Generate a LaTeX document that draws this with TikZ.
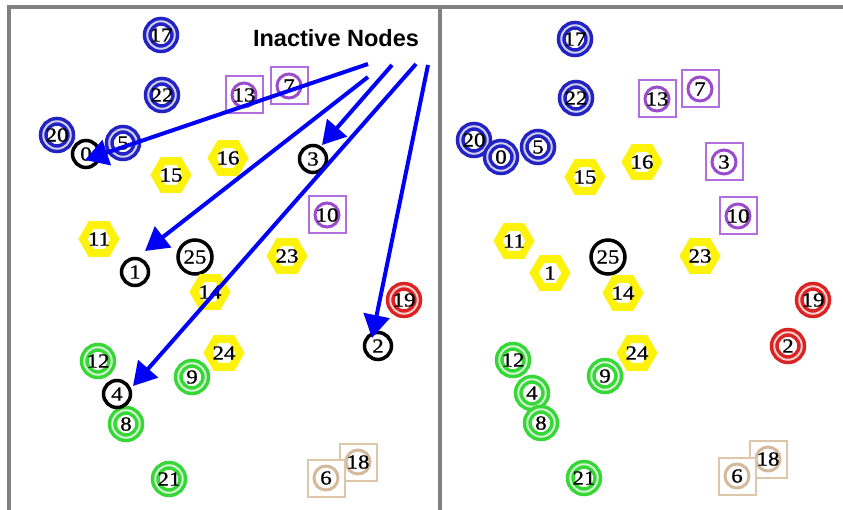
\documentclass[tikz,border=0pt]{standalone}
\usepackage{fontspec}
\setmainfont{Liberation Serif}
\newfontfamily\numfont{Liberation Serif}[FakeBold=0.8]
\newfontfamily\labelfont{Liberation Sans}
\usetikzlibrary{arrows.meta,shapes.geometric,calc}

\definecolor{ringblue}{RGB}{35,35,195}
\definecolor{ringgreen}{RGB}{55,215,55}
\definecolor{ringred}{RGB}{220,35,35}
\definecolor{hexyellow}{RGB}{253,243,10}
\definecolor{sqpurple}{RGB}{178,110,222}
\definecolor{circpurple}{RGB}{155,75,205}
\definecolor{sqtan}{RGB}{222,198,170}
\definecolor{circtan}{RGB}{212,185,155}
\definecolor{framegray}{RGB}{128,128,128}
\definecolor{arrowblue}{RGB}{0,0,250}

% zero-width, slightly widened numeral
\newcommand\dg[1]{\makebox[0pt]{\scalebox{1.15}[1]{#1}}}

\tikzset{
  num/.style={font=\numfont\fontsize{20}{20}\selectfont, text=black, inner sep=0pt},
  ringnode/.style={circle, minimum size=27.5pt, line width=3.5pt, double=#1!22,
    double distance=2pt, draw=#1, fill=white, num},
  blackring/.style={circle, minimum size=27pt, line width=3.5pt, draw=black, fill=white, num},
  bigblackring/.style={blackring, minimum size=34pt},
  hexnode/.style={regular polygon, regular polygon sides=6, minimum size=32pt,
    line width=8pt, draw=hexyellow, fill=white, num},
  sqnode/.style 2 args={rectangle, minimum size=37pt, line width=2pt, draw=#1,
    fill=white, num, path picture={\draw[#2, line width=3pt]
      (path picture bounding box.center) circle (12pt);}},
  purplesq/.style={sqnode={sqpurple}{circpurple}},
  tansq/.style={sqnode={sqtan}{circtan}},
  pointer/.style={draw=arrowblue, line width=4pt, -{Triangle[length=23pt,width=26pt]}},
  caption/.style={font=\labelfont\bfseries\fontsize{23.5}{23.5}\selectfont, inner sep=0pt}
}

\begin{document}
\begin{tikzpicture}[x=1pt, y=-1pt]
\useasboundingbox (0,0) rectangle (843,510);
\fill[white] (0,0) rectangle (843,510);

% panel frame
\draw[framegray, line width=4pt, line join=miter] (9,510) -- (9,7) -- (843,7);
\draw[framegray, line width=4pt] (440,7) -- (440,510);

% ---- left panel: network with inactive nodes ----
\node[ringnode=ringblue] (L17) at (161,35) {\dg{17}};
\node[ringnode=ringblue] (L22) at (162,95) {\dg{22}};
\node[ringnode=ringblue] (L20) at (57,135) {\dg{20}};
\node[ringnode=ringblue] (L5) at (123,143) {\dg{5}};
\node[blackring] (L0) at (86,154) {\dg{0}};
\node[purplesq] (L13) at (244,95) {\dg{13}};
\node[purplesq] (L7) at (289,86) {\dg{7}};
\node[hexnode] (L16) at (228,158) {\dg{16}};
\node[hexnode] (L15) at (171,175) {\dg{15}};
\node[blackring] (L3) at (313,159) {\dg{3}};
\node[purplesq] (L10) at (327,215) {\dg{10}};
\node[hexnode] (L11) at (99,239) {\dg{11}};
\node[bigblackring] (L25) at (195,257) {\dg{25}};
\node[hexnode] (L23) at (287,256) {\dg{23}};
\node[blackring] (L1) at (135,272) {\dg{1}};
\node[hexnode] (L14) at (210,292) {\dg{14}};
\node[ringnode=ringred] (L19) at (404,300) {\dg{19}};
\node[blackring] (L2) at (378,346) {\dg{2}};
\node[hexnode] (L24) at (224,353) {\dg{24}};
\node[ringnode=ringgreen] (L12) at (98,361) {\dg{12}};
\node[ringnode=ringgreen] (L9) at (192,377) {\dg{9}};
\node[ringnode=ringgreen] (L8) at (126,424) {\dg{8}};
\node[blackring] (L4) at (117,394) {\dg{4}};
\node[ringnode=ringgreen] (L21) at (169,479) {\dg{21}};
\node[tansq] (L18) at (358,462) {\dg{18}};
\node[tansq] (L6) at (326,478) {\dg{6}};

\node[caption] (cap) at (336,38) {Inactive Nodes};
\coordinate (s0) at (368,64);
\coordinate (s1) at (368,77);
\coordinate (s3) at (392,65);
\coordinate (s4) at (416,64);
\coordinate (s2) at (428,65);
\draw[pointer] (s0) -- ($(L0)+(-1,6)$);
\draw[pointer] (s1) -- ($(L1)+(10,-21)$);
\draw[pointer] (s3) -- ($(L3)+(9,-14)$);
\draw[pointer] (s4) -- ($(L4)+(16,-8)$);
\draw[pointer] (s2) -- ($(L2)+(-6,-8)$);

% ---- right panel: network after reassignment ----
\node[ringnode=ringblue] (R17) at (575,39) {\dg{17}};
\node[ringnode=ringblue] (R22) at (576,98) {\dg{22}};
\node[ringnode=ringblue] (R20) at (474,140) {\dg{20}};
\node[ringnode=ringblue] (R5) at (538,147) {\dg{5}};
\node[ringnode=ringblue] (R0) at (501,157) {\dg{0}};
\node[purplesq] (R13) at (657,99) {\dg{13}};
\node[purplesq] (R7) at (700,89) {\dg{7}};
\node[hexnode] (R16) at (642,162) {\dg{16}};
\node[hexnode] (R15) at (585,177) {\dg{15}};
\node[purplesq] (R3) at (724,162) {\dg{3}};
\node[purplesq] (R10) at (738,216) {\dg{10}};
\node[hexnode] (R11) at (514,241) {\dg{11}};
\node[bigblackring] (R25) at (608,257) {\dg{25}};
\node[hexnode] (R23) at (700,256) {\dg{23}};
\node[hexnode] (R1) at (550,273) {\dg{1}};
\node[hexnode] (R14) at (623,293) {\dg{14}};
\node[ringnode=ringred] (R19) at (813,300) {\dg{19}};
\node[ringnode=ringred] (R2) at (788,346) {\dg{2}};
\node[hexnode] (R24) at (637,353) {\dg{24}};
\node[ringnode=ringgreen] (R12) at (513,360) {\dg{12}};
\node[ringnode=ringgreen] (R9) at (605,376) {\dg{9}};
\node[ringnode=ringgreen] (R4) at (532,393) {\dg{4}};
\node[ringnode=ringgreen] (R8) at (541,423) {\dg{8}};
\node[ringnode=ringgreen] (R21) at (584,478) {\dg{21}};
\node[tansq] (R18) at (768,459) {\dg{18}};
\node[tansq] (R6) at (737,476) {\dg{6}};
\end{tikzpicture}
\end{document}
